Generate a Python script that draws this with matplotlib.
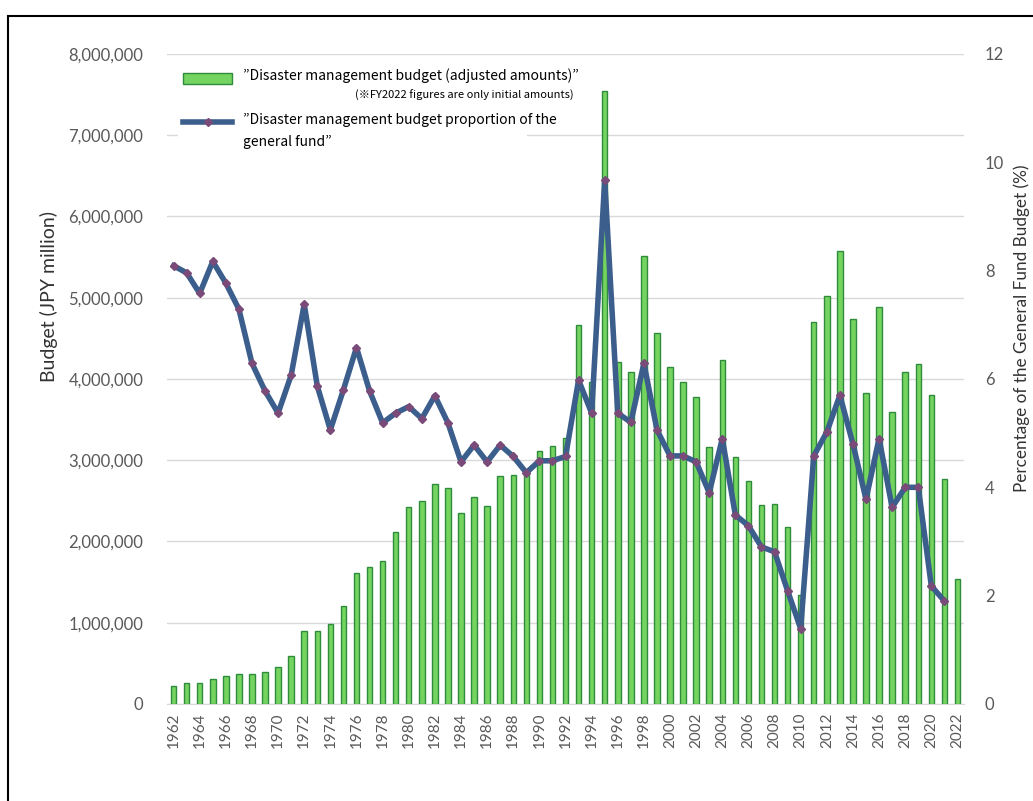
import numpy as np
import matplotlib
matplotlib.use("Agg")
import matplotlib.pyplot as plt
from matplotlib.patches import Rectangle
from matplotlib.lines import Line2D

# budget in JPY million, FY1962-FY2022 (2022 = initial amounts only)
years = list(range(1962, 2023))
budget = [220000, 255000, 255000, 310000, 350000, 370000, 370000, 390000, 450000, 585000,
          900000, 900000, 980000, 1200000, 1615000, 1690000, 1765000, 2120000, 2420000, 2500000,
          2710000, 2655000, 2350000, 2545000, 2440000, 2805000, 2820000, 2880000, 3115000, 3180000,
          3270000, 4660000, 3960000, 7540000, 4210000, 4090000, 5510000, 4560000, 4145000, 3960000,
          3780000, 3160000, 4230000, 3040000, 2740000, 2450000, 2460000, 2180000, 1340000, 4700000,
          5020000, 5570000, 4740000, 3830000, 4880000, 3590000, 4090000, 4190000, 3800000, 2770000,
          1540000]
# share of the general fund budget (%), FY1962-FY2021
share = [8.09, 7.96, 7.58, 8.17, 7.77, 7.29, 6.29, 5.78, 5.37, 6.07,
         7.38, 5.87, 5.06, 5.80, 6.58, 5.78, 5.19, 5.37, 5.49, 5.27,
         5.69, 5.19, 4.47, 4.78, 4.47, 4.78, 4.57, 4.27, 4.49, 4.49,
         4.57, 5.98, 5.37, 9.67, 5.37, 5.20, 6.29, 5.06, 4.58, 4.58,
         4.47, 3.90, 4.90, 3.49, 3.29, 2.90, 2.81, 2.09, 1.39, 4.58,
         5.02, 5.70, 4.80, 3.78, 4.90, 3.63, 4.00, 4.00, 2.18, 1.90]

bar_label = "\u201dDisaster management budget (adjusted amounts)\u201d"
line_label_1 = "\u201dDisaster management budget proportion of the"
line_label_2 = "general fund\u201d"
note = "(\u203bFY2022 figures are only initial amounts)"

gray = "#595959"
tick_font = "Lato"
leg_font = ["Noto Sans CJK JP", "DejaVu Sans"]
bar_face = "#74D45F"
bar_edge = "#2F8C3C"
line_col = "#3B5E8C"
mark_col = "#7A4A78"

fig = plt.figure(figsize=(10.33, 8.01), dpi=100)
ax = fig.add_axes([0.1617, 0.1211, 0.7715, 0.8115])
ax2 = ax.twinx()

ax.bar(years, budget, width=0.42, color=bar_face, edgecolor=bar_edge, linewidth=1.0, zorder=2)
ax2.plot(years[:-1], share, color=line_col, linewidth=4, marker="D", markersize=4,
         markerfacecolor=mark_col, markeredgecolor=mark_col, zorder=3)

ax.set_xlim(1961.5, 2022.5)
ax.set_ylim(0, 8000000)
ax2.set_ylim(0, 12)
ax.set_yticks(np.arange(0, 8000001, 1000000))
ax2.set_yticks(np.arange(0, 13, 2))
ax.set_xticks(years[::2])
ax.set_xticklabels([str(y) for y in years[::2]], rotation=90)
ax.yaxis.set_major_formatter(matplotlib.ticker.FuncFormatter(lambda v, p: f"{int(v):,}"))

ax.grid(axis="y", color="#D9D9D9", linewidth=1, zorder=0)
ax.set_axisbelow(True)
for a in (ax, ax2):
    for s in a.spines.values():
        s.set_visible(False)
ax.spines["bottom"].set_visible(True)
ax.spines["bottom"].set_color("#D9D9D9")

ax.tick_params(axis="y", length=0, pad=17, labelsize=12, labelcolor=gray)
ax.tick_params(axis="x", length=0, pad=6, labelsize=11, labelcolor=gray)
ax2.tick_params(axis="y", length=0, pad=15, labelsize=12, labelcolor=gray)
for lab in ax.get_xticklabels() + ax.get_yticklabels() + ax2.get_yticklabels():
    lab.set_family(tick_font)

fig.text(49 / 1033, 1 - 296 / 801, "Budget (JPY million)", rotation=90, ha="center", va="center",
         fontsize=14, color="#333333", family=tick_font)
fig.text(1022 / 1033, 1 - 328 / 801, "Percentage of the General Fund Budget (%)", rotation=90,
         ha="center", va="center", fontsize=12.3, color="#333333", family=tick_font)

# legend, laid out like the Excel one (white box hides the gridline behind it)
ax.add_patch(Rectangle((0.0138, 0.853), 0.4375, 0.132, transform=ax.transAxes,
                       facecolor="white", edgecolor="none", zorder=1))
ax2.add_patch(Rectangle((0.0201, 0.9538), 0.0615, 0.0169, transform=ax.transAxes,
                        facecolor=bar_face, edgecolor=bar_edge, linewidth=1.0, zorder=6, clip_on=False))
ax2.add_line(Line2D([0.0201, 0.0816], [0.8954, 0.8954], transform=ax.transAxes, color=line_col,
                    linewidth=4, zorder=6, clip_on=False))
ax2.add_line(Line2D([0.0508], [0.8954], transform=ax.transAxes, marker="D", markersize=4,
                    color=mark_col, zorder=7, clip_on=False))
ax2.text(0.0954, 0.9662, bar_label, transform=ax.transAxes, fontsize=10, family=leg_font,
         ha="left", va="center", zorder=8)
ax2.text(0.236, 0.9354, note, transform=ax.transAxes, fontsize=8, family=leg_font,
         ha="left", va="center", zorder=8)
ax2.text(0.0954, 0.8985, line_label_1, transform=ax.transAxes, fontsize=10, family=leg_font,
         ha="left", va="center", zorder=8)
ax2.text(0.0954, 0.8646, line_label_2, transform=ax.transAxes, fontsize=10, family=leg_font,
         ha="left", va="center", zorder=8)

# chart area border
fig.patches.append(Rectangle((8 / 1033, -0.05), 1.2, 1 - 16 / 801 + 0.05, transform=fig.transFigure,
                             fill=False, edgecolor="black", linewidth=1.5))

fig.savefig("out.png", dpi=100)
